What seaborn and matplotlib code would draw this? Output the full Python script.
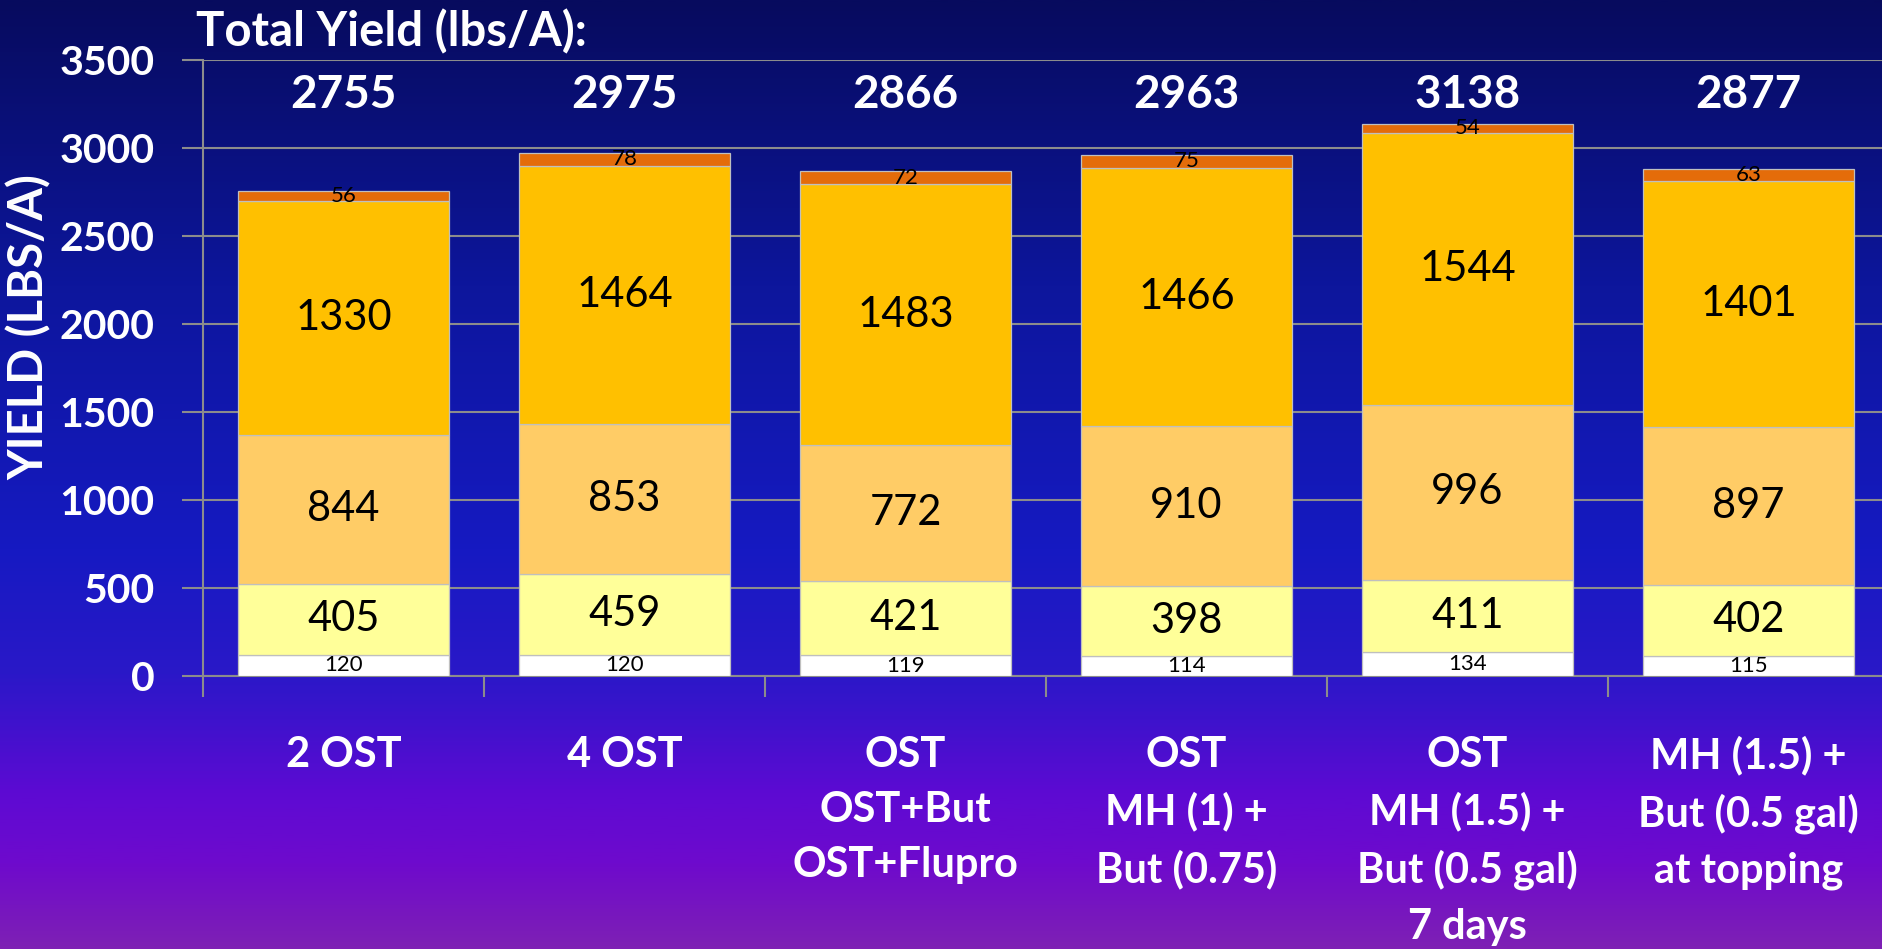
import numpy as np
import pandas as pd
import matplotlib
matplotlib.use("Agg")
import matplotlib.pyplot as plt
from matplotlib.colors import LinearSegmentedColormap
import seaborn as sns

# ---------------- data ----------------
categories = [
    "2 OST",
    "4 OST",
    "OST\nOST+But\nOST+Flupro",
    "OST\nMH (1) +\nBut (0.75)",
    "OST\nMH (1.5) +\nBut (0.5 gal)\n7 days",
    "MH (1.5) +\nBut (0.5 gal)\nat topping",
]
layer_1 = [120, 120, 119, 114, 134, 115]
layer_2 = [405, 459, 421, 398, 411, 402]
layer_3 = [844, 853, 772, 910, 996, 897]
layer_4 = [1330, 1464, 1483, 1466, 1544, 1401]
layer_5 = [56, 78, 72, 75, 54, 63]
totals = [2755, 2975, 2866, 2963, 3138, 2877]
y_ticks = [0, 500, 1000, 1500, 2000, 2500, 3000, 3500]
title_text = "Total Yield (lbs/A):"
y_label = "YIELD (LBS/A)"

layers = [layer_1, layer_2, layer_3, layer_4, layer_5]
layer_colors = ["#FFFFFF", "#FFFF99", "#FFCC66", "#FFC000", "#E46C0A"]
layer_fontsizes = [16, 30, 30, 30, 16]

FONT = ["Lato", "DejaVu Sans"]
plt.rcParams["font.family"] = FONT

W, H = 1882, 949
fig = plt.figure(figsize=(W / 100, H / 100), dpi=100)

# gradient background
bg = fig.add_axes([0, 0, 1, 1], zorder=-10)
grad_cmap = LinearSegmentedColormap.from_list(
    "bg",
    [(0.0, "#070B5E"), (0.30, "#0D169C"), (0.58, "#161AC2"), (0.71, "#2A18C8"),
     (0.84, "#5E0AD3"), (0.91, "#6E0ACD"), (1.0, "#7E20B4")],
)
bg.imshow(np.linspace(0, 1, 512).reshape(-1, 1), aspect="auto", cmap=grad_cmap,
          extent=[0, 1, 0, 1], origin="upper")
bg.set_axis_off()

ax_left = 203 / W
ax_right = 1889 / W
ax_top = 60 / H
ax_bot = 676 / H
ax = fig.add_axes([ax_left, 1 - ax_bot, ax_right - ax_left, ax_bot - ax_top])
ax.set_facecolor("none")

bottom = np.zeros(len(categories))
for vals, col in zip(layers, layer_colors):
    df = pd.DataFrame({"cat": categories, "val": vals})
    sns.barplot(data=df, x="cat", y="val", color=col, saturation=1, width=0.75,
                errorbar=None, bottom=bottom, edgecolor="#BFBFBF", linewidth=0.9,
                ax=ax, zorder=3)
    bottom = bottom + np.array(vals)

for cont, vals, fs in zip(ax.containers, layers, layer_fontsizes):
    ax.bar_label(cont, labels=[str(v) for v in vals], label_type="center",
                 fontsize=fs, color="black", family=FONT, zorder=5)

for i, t in enumerate(totals):
    ax.text(i, 3300, str(t), ha="center", va="center", color="white",
            fontsize=33, fontweight="bold", family=FONT)

n = len(categories)
ax.set_xlim(-0.5, n - 0.5)
ax.set_ylim(0, 3500)
ax.set_yticks(y_ticks)
ax.set_yticklabels([str(v) for v in y_ticks], color="white", fontsize=29.5,
                   fontweight="bold")
ax.set_xticks(np.arange(-0.5, n, 1.0))
ax.set_xticklabels([""] * (n + 1))
ax.set_xticks(np.arange(n), labels=categories, minor=True)
for lab in ax.get_xticklabels(minor=True):
    lab.set_color("white")
    lab.set_fontsize(30)
    lab.set_fontweight("bold")
    lab.set_linespacing(1.55)
ax.tick_params(axis="x", which="major", length=15, width=1.5, color="#8C8C8C",
               direction="out")
ax.tick_params(axis="x", which="minor", length=0, pad=43)
ax.tick_params(axis="y", which="major", length=15, width=1.5, color="#8C8C8C",
               direction="out", pad=20)
ax.set_xlabel("")
ax.set_ylabel("")
ax.grid(axis="y", color="#8C8C8C", linewidth=1.5, zorder=0)
ax.set_axisbelow(True)
for s in ["top", "right"]:
    ax.spines[s].set_visible(False)
for s in ["left", "bottom"]:
    ax.spines[s].set_color("#8C8C8C")
    ax.spines[s].set_linewidth(1.5)

fig.text(29 / W, 1 - 327 / H, y_label, rotation=90, ha="center", va="center",
         color="white", fontsize=34, fontweight="bold")
fig.text(196 / W, 1 - 32 / H, title_text, ha="left", va="center",
         color="white", fontsize=34, fontweight="bold")

fig.savefig("out.png", dpi=100)
